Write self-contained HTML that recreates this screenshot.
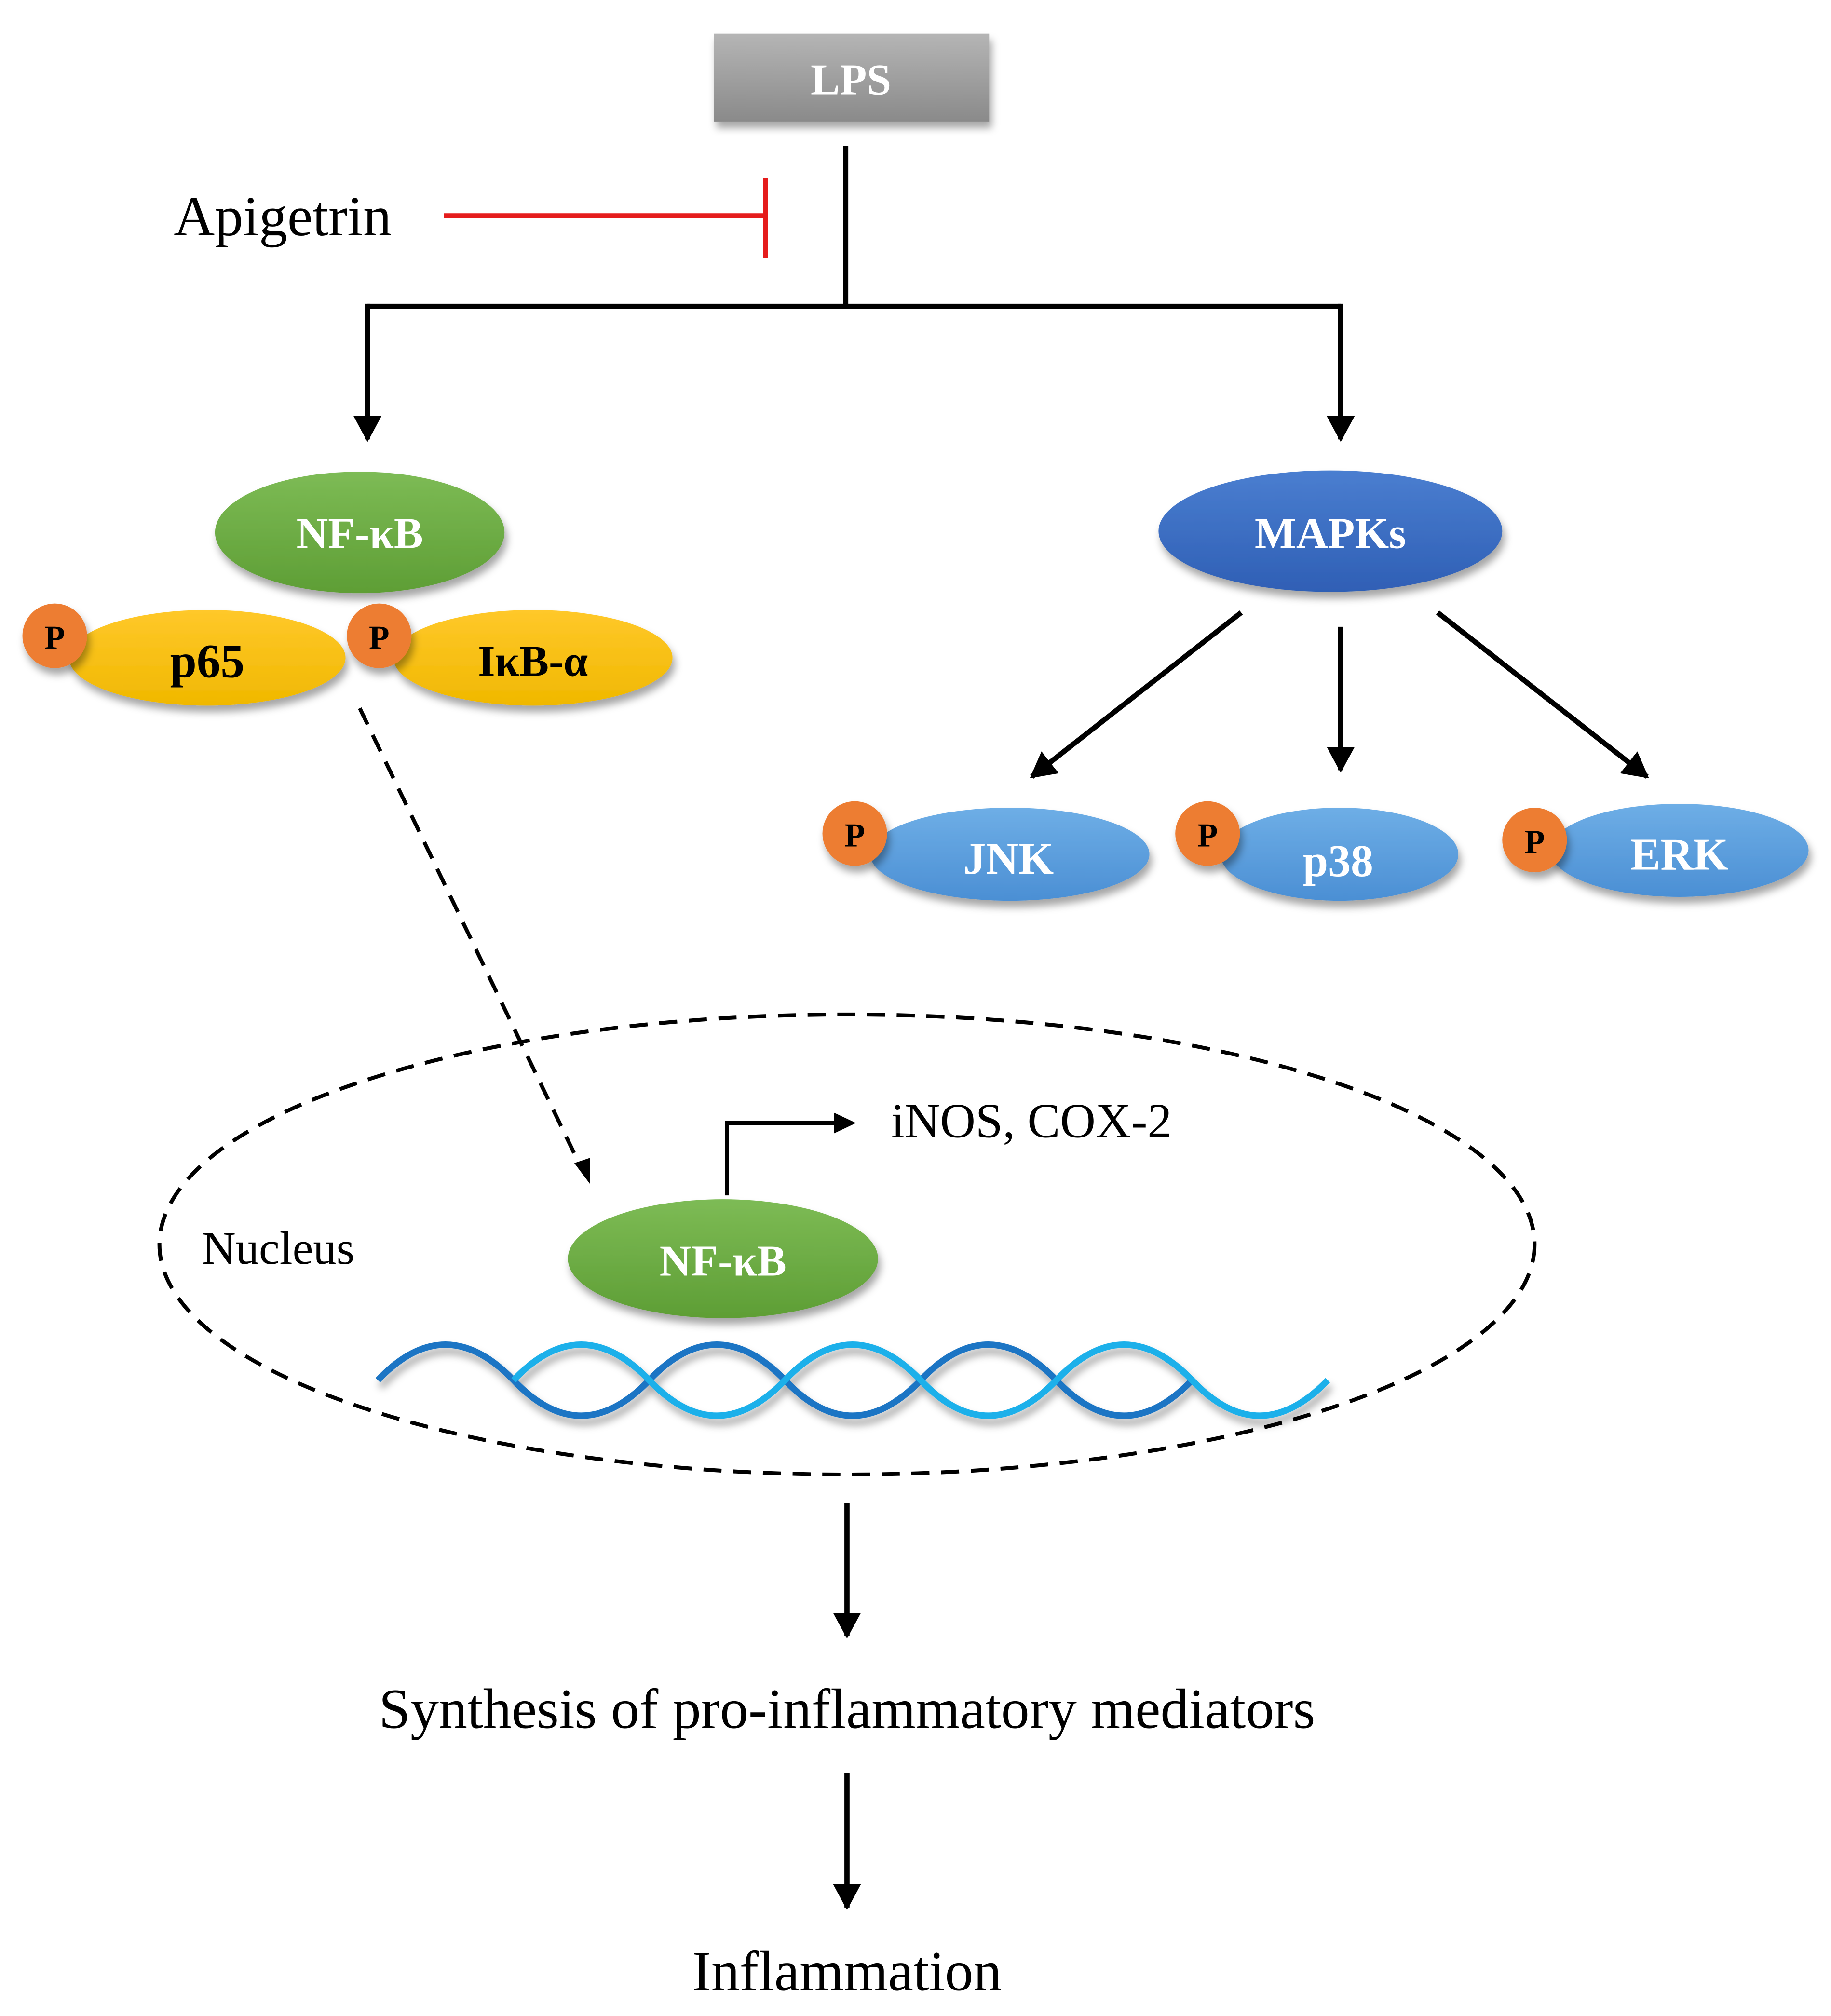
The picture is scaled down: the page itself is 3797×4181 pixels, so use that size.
<!DOCTYPE html>
<html><head><meta charset="utf-8"><style>
html,body{margin:0;padding:0;background:#fff;}
svg{display:block;}
</style></head><body>
<svg width="3797" height="4181" viewBox="0 0 1416 1560" xmlns="http://www.w3.org/2000/svg" font-family="'Liberation Serif', serif">
<defs>
<filter id="sh" x="-20%" y="-20%" width="140%" height="160%"><feDropShadow dx="2" dy="5" stdDeviation="3" flood-color="#000" flood-opacity="0.35"/></filter>
<linearGradient id="gray" x1="0" y1="0" x2="0" y2="1"><stop offset="0" stop-color="#b5b5b5"/><stop offset="1" stop-color="#8a8a8a"/></linearGradient>
<linearGradient id="green" x1="0" y1="0" x2="0" y2="1"><stop offset="0" stop-color="#7dbb55"/><stop offset="1" stop-color="#5e9e35"/></linearGradient>
<linearGradient id="yellow" x1="0" y1="0" x2="0" y2="1"><stop offset="0" stop-color="#ffc82a"/><stop offset="1" stop-color="#f0b800"/></linearGradient>
<linearGradient id="dblue" x1="0" y1="0" x2="0" y2="1"><stop offset="0" stop-color="#4a7ed0"/><stop offset="1" stop-color="#2f5fb5"/></linearGradient>
<linearGradient id="lblue" x1="0" y1="0" x2="0" y2="1"><stop offset="0" stop-color="#6eaee6"/><stop offset="1" stop-color="#4b8fd4"/></linearGradient>
<marker id="ah" markerWidth="6" markerHeight="6" refX="4.5" refY="3" orient="auto" markerUnits="strokeWidth"><path d="M0,0.3 L5,3 L0,5.7 z" fill="#000"/></marker>
</defs>

<rect x="552" y="26" width="213" height="68" fill="url(#gray)" filter="url(#sh)"/>
<text x="658" y="73" font-size="34" font-weight="bold" fill="#fff" text-anchor="middle">LPS</text>

<g stroke="#000" stroke-width="4" fill="none">
<path d="M654,113 V237 M284,237 H1037"/>
<path d="M284,235 V340" marker-end="url(#ah)"/>
<path d="M1037,235 V340" marker-end="url(#ah)"/>
<path d="M960,474 L798,601" marker-end="url(#ah)"/>
<path d="M1037,485 V596" marker-end="url(#ah)"/>
<path d="M1112,474 L1274,601" marker-end="url(#ah)"/>
<path d="M655,1163 V1266" marker-end="url(#ah)"/>
<path d="M655,1372 V1476" marker-end="url(#ah)"/>
</g>

<text x="134" y="182" font-size="44">Apigetrin</text>
<path d="M343,167 H592 M592,138 V200" stroke="#e51c1c" stroke-width="4" fill="none"/>

<ellipse cx="278" cy="412" rx="112" ry="47" fill="url(#green)" filter="url(#sh)"/>
<text x="278" y="424" font-size="34" font-weight="bold" fill="#fff" text-anchor="middle">NF-κB</text>

<ellipse cx="160" cy="509" rx="107" ry="37" fill="url(#yellow)" filter="url(#sh)"/>
<ellipse cx="412" cy="509" rx="108" ry="37" fill="url(#yellow)" filter="url(#sh)"/>
<circle cx="42" cy="492" r="25" fill="#ed7d31" filter="url(#sh)"/>
<circle cx="293" cy="492" r="25" fill="#ed7d31" filter="url(#sh)"/>
<text x="42" y="502" font-size="26" font-weight="bold" text-anchor="middle">P</text>
<text x="293" y="502" font-size="26" font-weight="bold" text-anchor="middle">P</text>
<text x="160" y="524" font-size="37" font-weight="bold" text-anchor="middle">p65</text>
<text x="412" y="523" font-size="34" font-weight="bold" text-anchor="middle">IκB-α</text>

<ellipse cx="1029" cy="411" rx="133" ry="47" fill="url(#dblue)" filter="url(#sh)"/>
<text x="1029" y="424" font-size="34" font-weight="bold" fill="#fff" text-anchor="middle">MAPKs</text>

<ellipse cx="781" cy="661" rx="108" ry="36" fill="url(#lblue)" filter="url(#sh)"/>
<ellipse cx="1036" cy="661" rx="92" ry="36" fill="url(#lblue)" filter="url(#sh)"/>
<ellipse cx="1299" cy="658" rx="100" ry="36" fill="url(#lblue)" filter="url(#sh)"/>
<circle cx="661" cy="645" r="25" fill="#ed7d31" filter="url(#sh)"/>
<circle cx="934" cy="645" r="25" fill="#ed7d31" filter="url(#sh)"/>
<circle cx="1187" cy="650" r="25" fill="#ed7d31" filter="url(#sh)"/>
<text x="661" y="655" font-size="26" font-weight="bold" text-anchor="middle">P</text>
<text x="934" y="655" font-size="26" font-weight="bold" text-anchor="middle">P</text>
<text x="1187" y="660" font-size="26" font-weight="bold" text-anchor="middle">P</text>
<text x="780" y="676" font-size="35" font-weight="bold" fill="#fff" text-anchor="middle">JNK</text>
<text x="1035" y="678" font-size="35" font-weight="bold" fill="#fff" text-anchor="middle">p38</text>
<text x="1299" y="673" font-size="35" font-weight="bold" fill="#fff" text-anchor="middle">ERK</text>

<path d="M278,548 L449,903" stroke="#000" stroke-width="3" stroke-dasharray="14,9" fill="none"/>
<path d="M444,900 L456,916 L456,896 z" fill="#000"/>

<ellipse cx="655" cy="963" rx="532" ry="178" fill="none" stroke="#000" stroke-width="3" stroke-dasharray="14,9"/>
<text x="156" y="978" font-size="36">Nucleus</text>

<ellipse cx="559" cy="974" rx="120" ry="46" fill="url(#green)" filter="url(#sh)"/>
<text x="559" y="987" font-size="34" font-weight="bold" fill="#fff" text-anchor="middle">NF-κB</text>

<path d="M562,925 V869 H648" stroke="#000" stroke-width="3" fill="none"/>
<path d="M645,861 L662,869 L645,877 z" fill="#000"/>
<text x="689" y="880" font-size="38">iNOS, COX-2</text>

<g fill="none" stroke-width="5" filter="url(#sh)">
<path d="M292,1068 q52,-55 105,0 q52,55 105,0 q52,-55 105,0 q52,55 105,0 q52,-55 105,0 q52,55 105,0" stroke="#1a75c4"/>
<path d="M397,1068 q52,-55 105,0 q52,55 105,0 q52,-55 105,0 q52,55 105,0 q52,-55 105,0 q52,55 105,0" stroke="#1fb0ea"/>
</g>

<text x="655" y="1337" font-size="44" text-anchor="middle">Synthesis of pro-inflammatory mediators</text>
<text x="655" y="1540" font-size="44" text-anchor="middle">Inflammation</text>
</svg>
</body></html>
